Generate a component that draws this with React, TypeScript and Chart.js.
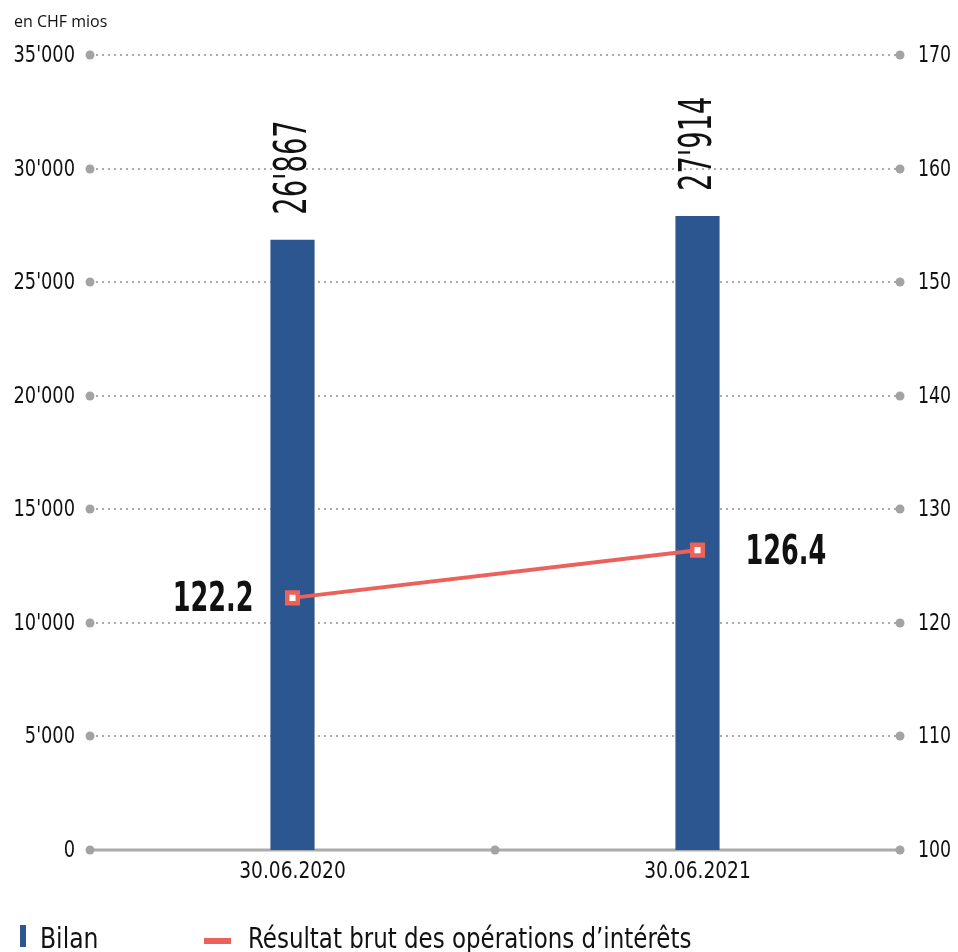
import React, { useEffect, useRef } from "react";
import { Chart, registerables } from "chart.js";

Chart.register(...registerables);

const categories = ["30.06.2020", "30.06.2021"];
const bilanValues = [26867, 27914];
const resultatValues = [122.2, 126.4];
const leftAxis = { min: 0, max: 35000, step: 5000 };
const rightAxis = { min: 100, max: 170, step: 10 };
const unitLabel = "en CHF mios";
const seriesNames = ["Résultat brut des opérations d’intérêts", "Bilan"];

const BLUE = "#2B568F";
const RED = "#EB615B";
const GRID = "#ababab";
const FONT = "'DejaVu Sans Condensed', 'Liberation Sans Narrow', sans-serif";

const fmt = (n: number) => String(n).replace(/\B(?=(\d{3})+(?!\d))/g, "'");

function drawText(
  ctx: CanvasRenderingContext2D,
  text: string,
  x: number,
  y: number,
  font: string,
  align: CanvasTextAlign,
  sx: number,
  rotate = 0
) {
  ctx.save();
  ctx.translate(x, y);
  if (rotate) ctx.rotate(rotate);
  ctx.scale(sx, 1);
  ctx.font = font;
  ctx.textAlign = align;
  ctx.textBaseline = "alphabetic";
  ctx.fillStyle = "#111";
  ctx.fillText(text, 0, 0);
  ctx.restore();
}

const decorPlugin = {
  id: "decor",
  beforeDatasetsDraw(chart: any) {
    const { ctx, chartArea } = chart;
    const y = chart.scales.y;
    const x = chart.scales.x;
    ctx.save();
    y.ticks.forEach((t: any) => {
      const py = Math.round(y.getPixelForValue(t.value));
      ctx.beginPath();
      if (t.value === 0) {
        ctx.setLineDash([]);
        ctx.lineWidth = 3;
      } else {
        ctx.setLineDash([2, 4]);
        ctx.lineWidth = 2;
      }
      ctx.strokeStyle = GRID;
      ctx.moveTo(chartArea.left, py);
      ctx.lineTo(chartArea.right, py);
      ctx.stroke();
      ctx.setLineDash([]);
      const dots = [chartArea.left, chartArea.right];
      if (t.value === 0) {
        dots.push((x.getPixelForValue(0) + x.getPixelForValue(1)) / 2);
      }
      ctx.fillStyle = "#a3a3a3";
      dots.forEach((dx) => {
        ctx.beginPath();
        ctx.arc(dx, py, 4.5, 0, Math.PI * 2);
        ctx.fill();
      });
    });
    ctx.restore();
  },
  afterDatasetsDraw(chart: any) {
    const { ctx, chartArea } = chart;
    const y = chart.scales.y;
    const y1 = chart.scales.y1;
    const x = chart.scales.x;

    // axis tick labels
    const tickFont = `23px ${FONT}`;
    y.ticks.forEach((t: any) => {
      const py = y.getPixelForValue(t.value);
      drawText(ctx, fmt(t.value), chartArea.left - 15, py + 7, tickFont, "right", 0.86);
    });
    y1.ticks.forEach((t: any) => {
      const py = y1.getPixelForValue(t.value);
      drawText(ctx, String(t.value), chartArea.right + 18, py + 7, tickFont, "left", 0.84);
    });
    categories.forEach((c, i) => {
      const px = x.getPixelForValue(i);
      drawText(ctx, c, px, chartArea.bottom + 28, tickFont, "center", 0.9);
    });

    // bar value labels (rotated)
    const barMeta = chart.getDatasetMeta(1);
    barMeta.data.forEach((el: any, i: number) => {
      drawText(ctx, fmt(bilanValues[i]), el.x + 13, el.y - 25, `44px ${FONT}`, "left", 0.69, -Math.PI / 2);
    });

    // line value labels
    const lineMeta = chart.getDatasetMeta(0);
    lineMeta.data.forEach((el: any, i: number) => {
      const label = resultatValues[i].toFixed(1);
      if (i === 0) {
        drawText(ctx, label, el.x - 39, el.y + 13, `bold 40px ${FONT}`, "right", 0.71);
      } else {
        drawText(ctx, label, el.x + 48, el.y + 14, `bold 40px ${FONT}`, "left", 0.71);
      }
    });

    // unit label
    ctx.save();
    ctx.font = "16px 'Open Sans', 'Noto Sans', sans-serif";
    ctx.fillStyle = "#111";
    ctx.textAlign = "left";
    ctx.textBaseline = "alphabetic";
    ctx.fillText(unitLabel, 14, 27);
    ctx.restore();

    // legend
    const legendBase = 948;
    ctx.save();
    ctx.fillStyle = chart.data.datasets[1].backgroundColor;
    ctx.fillRect(20, 925, 6, 22);
    ctx.fillStyle = chart.data.datasets[0].borderColor;
    ctx.fillRect(204, 938, 27, 6);
    ctx.restore();
    drawText(ctx, seriesNames[1], 40, legendBase, `29px ${FONT}`, "left", 0.9);
    drawText(ctx, seriesNames[0], 248, legendBase, `29px ${FONT}`, "left", 0.88);
  },
};

export default function App() {
  const ref = useRef<HTMLCanvasElement | null>(null);

  useEffect(() => {
    if (!ref.current) return;
    const chart = new Chart(ref.current, {
      type: "bar",
      data: {
        labels: categories,
        datasets: [
          {
            type: "line",
            label: seriesNames[0],
            data: resultatValues,
            yAxisID: "y1",
            borderColor: RED,
            borderWidth: 4,
            backgroundColor: "#ffffff",
            pointStyle: "rect",
            pointRadius: 7.5,
            pointBorderWidth: 4.5,
            pointBorderColor: RED,
            pointBackgroundColor: "#ffffff",
            order: 0,
          } as any,
          {
            type: "bar",
            label: seriesNames[1],
            data: bilanValues,
            yAxisID: "y",
            backgroundColor: BLUE,
            barPercentage: 1,
            categoryPercentage: 0.109,
            order: 1,
          },
        ],
      },
      options: {
        animation: false,
        responsive: true,
        maintainAspectRatio: false,
        layout: { padding: { top: 55, left: 0, right: 0, bottom: 0 } },
        plugins: {
          legend: { display: false },
          tooltip: { enabled: false },
        },
        scales: {
          x: {
            grid: { display: false, drawTicks: false },
            border: { display: false },
            ticks: { display: false },
            afterFit(scale: any) {
              scale.height = 102;
            },
          },
          y: {
            position: "left",
            min: leftAxis.min,
            max: leftAxis.max,
            grid: { display: false, drawTicks: false },
            border: { display: false },
            ticks: { display: false, stepSize: leftAxis.step },
            afterFit(scale: any) {
              scale.width = 90;
            },
          },
          y1: {
            position: "right",
            min: rightAxis.min,
            max: rightAxis.max,
            grid: { display: false, drawTicks: false },
            border: { display: false },
            ticks: { display: false, stepSize: rightAxis.step },
            afterFit(scale: any) {
              scale.width = 58;
            },
          },
        },
      },
      plugins: [decorPlugin],
    });
    return () => chart.destroy();
  }, []);

  return (
    <div
      style={{
        position: "fixed",
        left: 0,
        top: 0,
        width: 958,
        height: 952,
        background: "#fff",
      }}
    >
      <canvas
        ref={ref}
        style={{ position: "absolute", left: 0, top: 0, width: 958, height: 952 }}
      />
    </div>
  );
}
